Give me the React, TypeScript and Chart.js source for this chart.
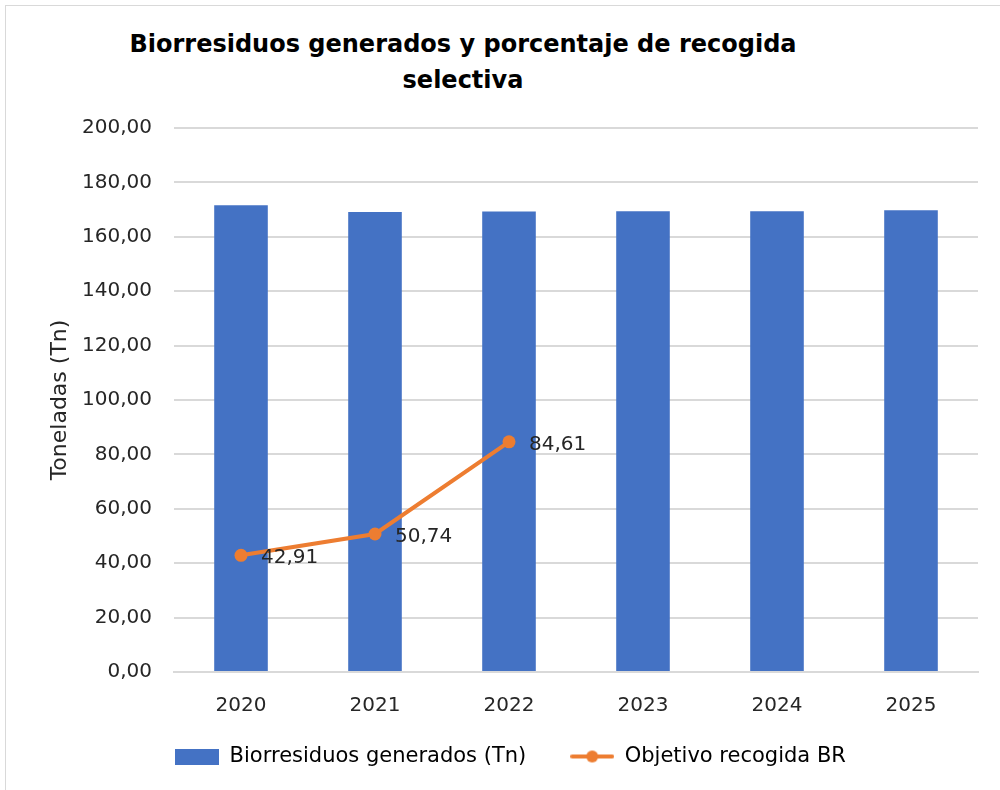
import { useEffect, useRef } from "react";
import { Chart, registerables } from "chart.js";
Chart.register(...registerables);

const categories = ["2020", "2021", "2022", "2023", "2024", "2025"];
const biorresiduos = [171.6, 169.1, 169.3, 169.4, 169.4, 169.8];
const objetivo: (number | null)[] = [42.91, 50.74, 84.61, null, null, null];
const seriesNames = ["Biorresiduos generados (Tn)", "Objetivo recogida BR"];
const titleLines = ["Biorresiduos generados y porcentaje de recogida", "selectiva"];
const yAxisTitle = "Toneladas (Tn)";

const BLUE = "#4472C4";
const ORANGE = "#ED7D31";
const FONT = "'DejaVu Sans', sans-serif";
const fmt = (v: number) => v.toFixed(2).replace(".", ",");

function makeBarIcon() {
  const c = document.createElement("canvas");
  c.width = 44;
  c.height = 16;
  const ctx = c.getContext("2d")!;
  ctx.fillStyle = BLUE;
  ctx.fillRect(0, 0, 44, 16);
  return c;
}
function makeLineIcon() {
  const c = document.createElement("canvas");
  c.width = 44;
  c.height = 16;
  const ctx = c.getContext("2d")!;
  ctx.strokeStyle = ORANGE;
  ctx.lineWidth = 4;
  ctx.lineCap = "round";
  ctx.beginPath();
  ctx.moveTo(2, 8);
  ctx.lineTo(42, 8);
  ctx.stroke();
  ctx.fillStyle = ORANGE;
  ctx.beginPath();
  ctx.arc(22, 8, 6, 0, Math.PI * 2);
  ctx.fill();
  return c;
}

const labelPlugin = {
  id: "pointLabels",
  afterDatasetsDraw(chart: any) {
    const meta = chart.getDatasetMeta(1);
    const ctx = chart.ctx;
    ctx.save();
    ctx.font = `20px ${FONT}`;
    ctx.fillStyle = "#262626";
    ctx.textAlign = "left";
    ctx.textBaseline = "middle";
    meta.data.forEach((pt: any, i: number) => {
      const v = objetivo[i];
      if (v == null) return;
      ctx.fillText(fmt(v), pt.x + 20, pt.y + 3);
    });
    ctx.restore();
  },
};

export default function App() {
  const ref = useRef<HTMLCanvasElement>(null);
  useEffect(() => {
    const barIcon = makeBarIcon();
    const lineIcon = makeLineIcon();
    const chart = new Chart(ref.current!, {
      type: "bar",
      data: {
        labels: categories,
        datasets: [
          {
            type: "bar",
            label: seriesNames[0],
            data: biorresiduos,
            backgroundColor: BLUE,
            categoryPercentage: 1,
            barPercentage: 0.4,
            order: 2,
          },
          {
            type: "line",
            label: seriesNames[1],
            data: objetivo,
            borderColor: ORANGE,
            backgroundColor: ORANGE,
            borderWidth: 4,
            pointRadius: 6.5,
            pointHoverRadius: 6.5,
            pointBackgroundColor: ORANGE,
            pointBorderWidth: 0,
            spanGaps: false,
            order: 1,
          },
        ],
      },
      options: {
        animation: false,
        responsive: true,
        maintainAspectRatio: false,
        layout: { padding: { left: 43, right: 22, top: 128, bottom: 13 } },
        plugins: {
          title: { display: false },
          tooltip: { enabled: false },
          legend: {
            position: "bottom",
            labels: {
              font: { family: FONT, size: 21 },
              color: "#262626",
              usePointStyle: true,
              pointStyleWidth: 44,
              boxHeight: 16,
              padding: 44,
              generateLabels: () => [
                { text: seriesNames[0], pointStyle: barIcon, fillStyle: BLUE, strokeStyle: BLUE, lineWidth: 0, datasetIndex: 0, hidden: false },
                { text: seriesNames[1], pointStyle: lineIcon, fillStyle: ORANGE, strokeStyle: ORANGE, lineWidth: 0, datasetIndex: 1, hidden: false },
              ] as any,
            },
          },
        },
        scales: {
          x: {
            grid: { display: false, drawTicks: false },
            border: { display: true, color: "#d9d9d9", width: 2 },
            ticks: { font: { family: FONT, size: 20 }, color: "#262626", padding: 22 },
            afterFit: (s: any) => {
              s.height = 30;
              s._computeLabelArea = () => undefined;
            },
          },
          y: {
            min: 0,
            max: 200,
            grid: { color: "#d9d9d9", lineWidth: 2, drawTicks: false },
            border: { display: false },
            ticks: {
              stepSize: 20,
              font: { family: FONT, size: 20 },
              color: "#262626",
              padding: 22,
              callback: (v: any) => fmt(Number(v)),
            },
            title: {
              display: true,
              text: yAxisTitle,
              font: { family: FONT, size: 22 },
              color: "#262626",
              padding: 4,
            },
            afterFit: (s: any) => { s.width = 131; },
          },
        },
      },
      plugins: [labelPlugin],
    });
    return () => chart.destroy();
  }, []);

  return (
    <div style={{ position: "fixed", left: 0, top: 0, width: 1000, height: 790, background: "#fff", overflow: "hidden" }}>
      <div style={{ position: "absolute", left: 5, top: 5, width: 1000, height: 800, border: "1px solid #d9d9d9", boxSizing: "border-box" }} />
      <div
        style={{
          position: "absolute",
          left: 63,
          width: 800,
          top: 26,
          textAlign: "center",
          fontFamily: FONT,
          fontWeight: "bold",
          fontSize: 24,
          lineHeight: "36px",
          color: "#000",
        }}
      >
        {titleLines.map((t, i) => (
          <div key={i}>{t}</div>
        ))}
      </div>
      <div style={{ position: "absolute", left: 0, top: 0, width: 1000, height: 790 }}>
        <canvas ref={ref} />
      </div>
    </div>
  );
}
